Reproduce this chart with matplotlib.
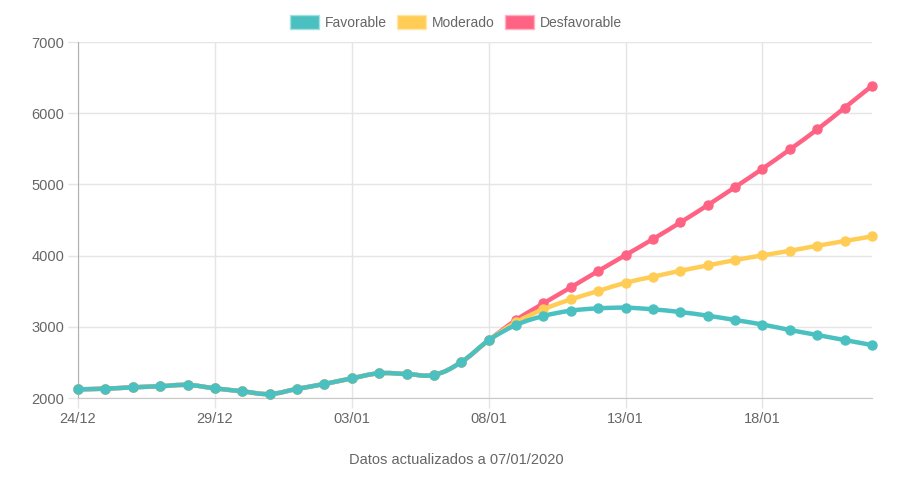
import numpy as np
import matplotlib
matplotlib.use("Agg")
import matplotlib.pyplot as plt
from matplotlib.patches import Patch
from matplotlib.path import Path
from matplotlib.patches import PathPatch

plt.rcParams['font.family'] = ['Liberation Sans', 'DejaVu Sans']

# day labels 24/12 .. 22/01
dias = ['24/12', '25/12', '26/12', '27/12', '28/12', '29/12', '30/12', '31/12',
        '01/01', '02/01', '03/01', '04/01', '05/01', '06/01', '07/01', '08/01',
        '09/01', '10/01', '11/01', '12/01', '13/01', '14/01', '15/01', '16/01',
        '17/01', '18/01', '19/01', '20/01', '21/01', '22/01']

historico = [2122, 2131, 2150, 2165, 2183, 2136, 2094, 2056, 2128, 2197,
             2276, 2347, 2337, 2325, 2505, 2810]

favorable = historico + [3025, 3151, 3226, 3259, 3268, 3245, 3207, 3156,
                         3095, 3032, 2955, 2885, 2814, 2744]
moderado = historico + [3063, 3245, 3385, 3502, 3619, 3703, 3787, 3862,
                        3937, 4003, 4068, 4138, 4204, 4270]
desfavorable = historico + [3095, 3329, 3554, 3783, 4008, 4232, 4466, 4709,
                            4962, 5220, 5491, 5772, 6076, 6385]

series = [('Favorable', favorable, '#4bc0c0', '#a5e0e0'),
          ('Moderado', moderado, '#ffcd56', '#ffe6aa'),
          ('Desfavorable', desfavorable, '#ff6384', '#ffb1c1')]

gris = '#666666'


def curva(x, y, t=0.4):
    # bezier path through the points, like chart.js line tension
    x = np.asarray(x, float)
    y = np.asarray(y, float)
    verts = [(x[0], y[0])]
    codes = [Path.MOVETO]
    n = len(x)
    for i in range(n - 1):
        x0, y0 = (x[i - 1], y[i - 1]) if i > 0 else (x[i], y[i])
        x3, y3 = (x[i + 2], y[i + 2]) if i + 2 < n else (x[i + 1], y[i + 1])
        c1 = (x[i] + t * (x[i + 1] - x0) / 2, y[i] + t * (y[i + 1] - y0) / 2)
        c2 = (x[i + 1] - t * (x3 - x[i]) / 2, y[i + 1] - t * (y3 - y[i]) / 2)
        verts += [c1, c2, (x[i + 1], y[i + 1])]
        codes += [Path.CURVE4] * 3
    return Path(verts, codes)


fig = plt.figure(figsize=(9.07, 4.83), dpi=100)
ax = fig.add_axes([78 / 907, 85 / 483, 794 / 907, 356 / 483])

x = np.arange(len(dias))
# draw in reverse so the first series ends on top
for i, (nombre, vals, color, _) in enumerate(reversed(series)):
    ax.add_patch(PathPatch(curva(x, vals), facecolor='none', edgecolor=color,
                           lw=3.2, zorder=3 + i * 2, capstyle='round'))
    ax.plot(x, vals, 'o', color=color, ms=6.5, zorder=4 + i * 2, clip_on=False)

ax.set_xlim(0, len(dias) - 1)
ax.set_ylim(2000, 7000)
ax.set_xticks(x[::5])
ax.set_xticklabels(dias[::5])
ax.set_yticks(range(2000, 7001, 1000))
ax.grid(True, color='#e5e5e5', lw=1, zorder=0)
ax.tick_params(axis='both', colors='#e5e5e5', labelcolor=gris, labelsize=10.5,
               length=7, width=1, pad=3)
for s in ['top', 'right']:
    ax.spines[s].set_visible(False)
ax.spines['left'].set_color('#b0b0b0')
ax.spines['bottom'].set_color('#c8c8c8')

handles = [Patch(facecolor=c, edgecolor=b, lw=1, label=n) for n, _, c, b in series]
leg = fig.legend(handles=handles, loc='upper center', bbox_to_anchor=(0.503, 0.994),
                 ncol=3, frameon=False, fontsize=10, handlelength=2.05, handleheight=1.15,
                 handletextpad=0.45, columnspacing=0.75)
for t in leg.get_texts():
    t.set_color(gris)

fig.text(0.503, 1 - 460 / 483, 'Datos actualizados a 07/01/2020', ha='center',
         va='center', color=gris, fontsize=10.5)

fig.savefig('out.png', dpi=100)
